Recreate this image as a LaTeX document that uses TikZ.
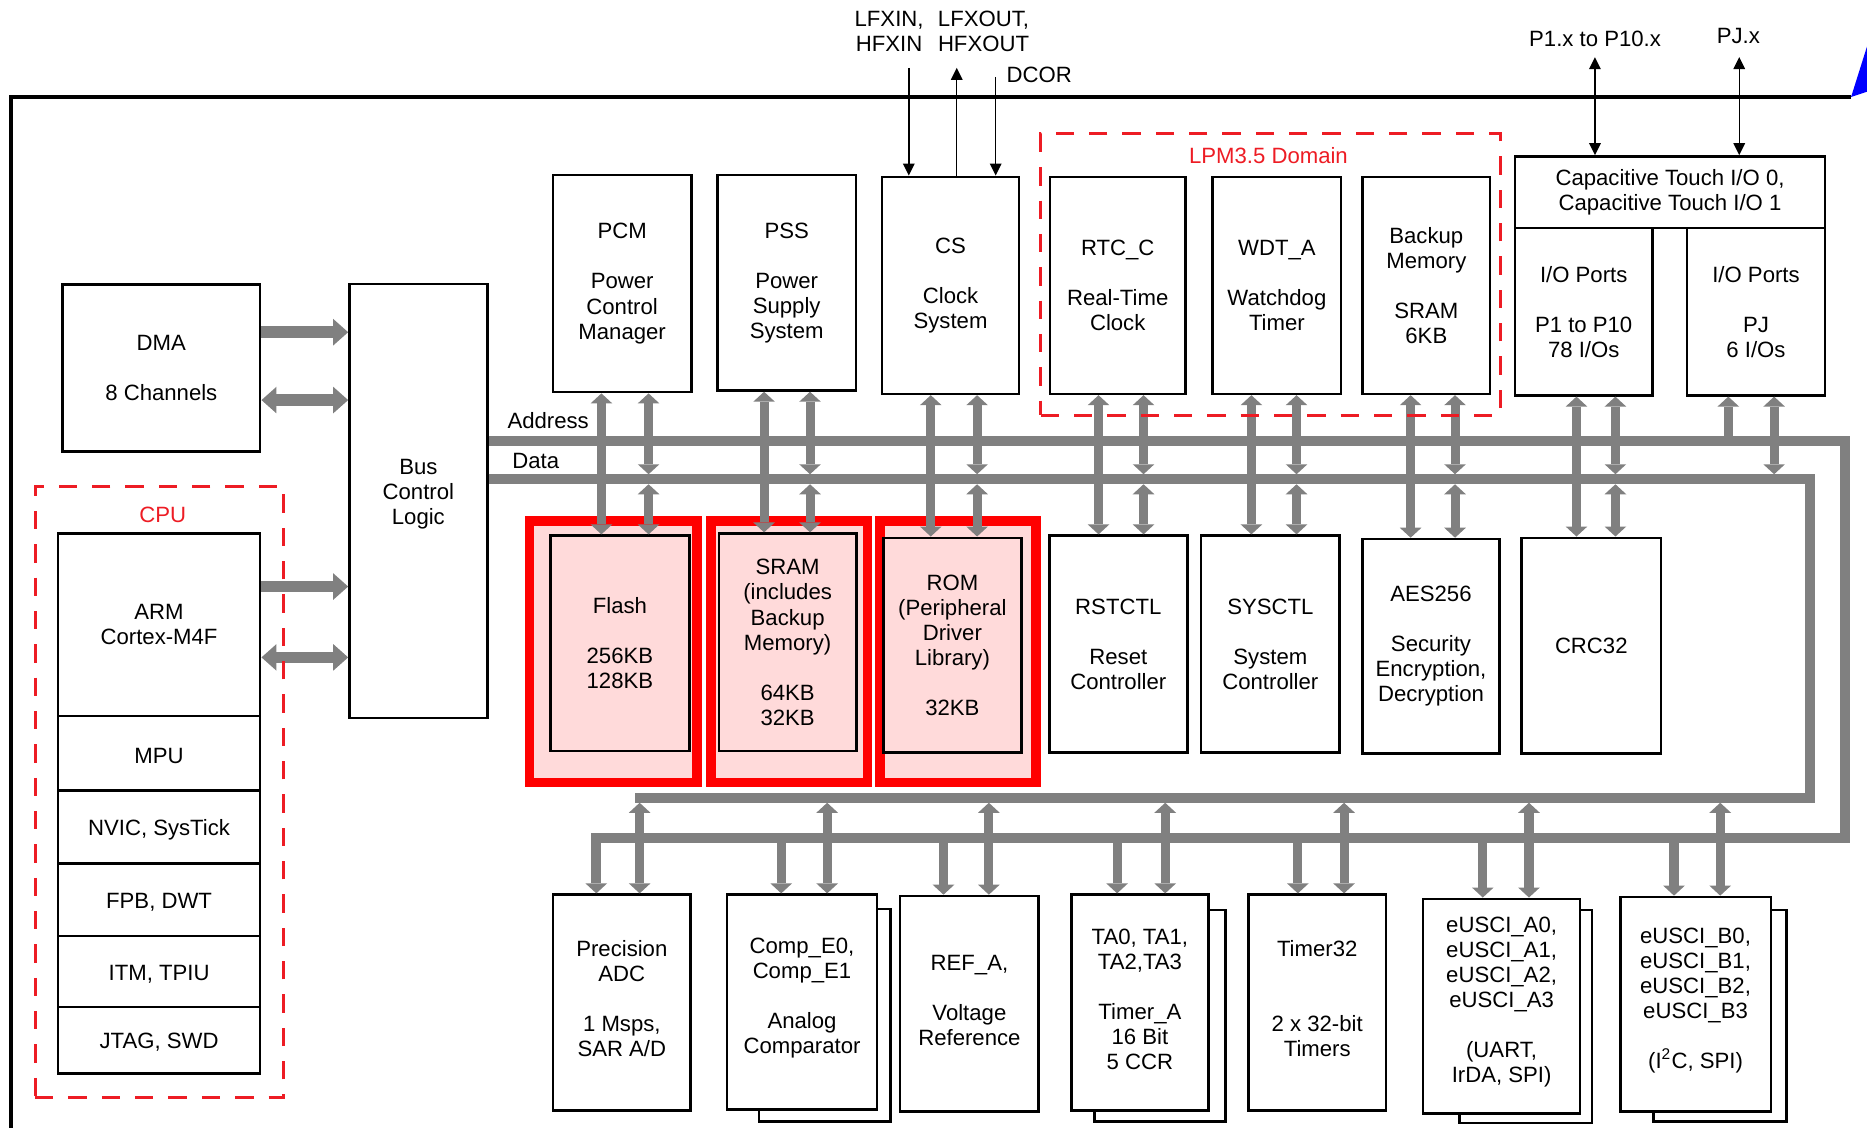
\documentclass[tikz,border=0pt]{standalone}
\usepackage{fontspec}
\setmainfont{Liberation Sans}
\usetikzlibrary{arrows.meta,fit,calc}
\definecolor{busgray}{RGB}{128,128,128}
\definecolor{memred}{RGB}{255,0,0}
\definecolor{mempink}{RGB}{255,218,218}
\definecolor{dashred}{RGB}{237,28,36}
\definecolor{logoblue}{RGB}{0,0,255}
\begin{document}
\begin{tikzpicture}[x=0.5pt,y=-0.5pt,
  every node/.style={font=\fontsize{9.3}{10.5}\selectfont},
  box/.style={draw=black, line width=1.1pt, inner sep=0pt},
  tx/.style={align=center, inner sep=0pt},
  txlow/.style={align=center, inner sep=0pt, yshift=-1pt},
  txhigh/.style={align=center, inner sep=0pt, yshift=1.5pt},
  membox/.style={draw=memred, fill=mempink, line width=4pt, inner sep=0pt},
  dombox/.style={draw=dashred, line width=1.3pt, dash pattern=on 7.7pt off 6.3pt, inner sep=0pt},
  bus/.style={draw=busgray, line width=4.2pt},
  conn/.style={draw=busgray, line width=3.8pt},
  fat/.style={draw=busgray, line width=4.9pt},
  thinarrow/.style={draw=black, line width=0.6pt},
  gtip/.tip={Triangle[width=9.1pt,length=4.2pt,line width=0pt]},
  ftip/.tip={Triangle[width=11.2pt,length=6.3pt,line width=0pt]},
  ttip/.tip={Triangle[width=5pt,length=5pt,line width=0pt]},
  redlabel/.style={text=dashred},
  lbl/.style={align=center},
  shadowline/.style={draw=black, line width=1.1pt}
]
\useasboundingbox (0,0) rectangle (1568,947);
\clip (0,0) rectangle (1568,947);

% outer border and logo corner
\draw[line width=1.4pt] (1554.6,81.5) -- (9.2,81.5) -- (9.2,960);
\fill[logoblue] (1554.6,81.5) -- (1568,39) -- (1568,77) -- cycle;

% left side
\node[box, fit={(52.5,239) (218.5,379.4)}] (dma) {};
\node[tx] (dmat) at (dma) {DMA\\[10.5pt]8 Channels};
\node[box, fit={(293.5,238.5) (409.2,603)}] (busctl) {};
\node[tx, yshift=3pt] (busctlt) at (busctl) {Bus\\Control\\Logic};
\node[box, fit={(48.7,448.2) (218.5,601.3)}] (arm) {};
\node[tx] (armt) at (arm) {ARM\\Cortex-M4F};
\node[box, fit={(48.7,601.3) (218.5,664)}] (mpu) {};
\node[txlow] (mput) at (mpu) {MPU};
\node[box, fit={(48.7,664) (218.5,725.4)}] (nvic) {};
\node[txlow] (nvict) at (nvic) {NVIC, SysTick};
\node[box, fit={(48.7,725.4) (218.5,786)}] (fpb) {};
\node[txlow] (fpbt) at (fpb) {FPB, DWT};
\node[box, fit={(48.7,786) (218.5,845.7)}] (itm) {};
\node[txlow] (itmt) at (itm) {ITM, TPIU};
\node[box, fit={(48.7,845.7) (218.5,901.5)}] (jtag) {};
\node[txlow] (jtagt) at (jtag) {JTAG, SWD};

% top row
\node[box, fit={(464.4,147) (580.6,329.3)}] (pcm) {};
\node[tx] (pcmt) at (pcm) {PCM\\[10.5pt]Power\\Control\\Manager};
\node[box, fit={(602.6,147) (718.8,327.9)}] (pss) {};
\node[tx] (psst) at (pss) {PSS\\[10.5pt]Power\\Supply\\System};
\node[box, fit={(740.8,148.5) (855.8,330.8)}] (cs) {};
\node[tx] (cst) at (cs) {CS\\[10.5pt]Clock\\System};
\node[box, fit={(881.8,148.5) (995.6,330.8)}] (rtc) {};
\node[tx] (rtct) at (rtc) {RTC\_C\\[10.5pt]Real-Time\\Clock};
\node[box, fit={(1018.5,148.5) (1126.3,330.8)}] (wdt) {};
\node[tx] (wdtt) at (wdt) {WDT\_A\\[10.5pt]Watchdog\\Timer};
\node[box, fit={(1144.3,148.5) (1251.5,330.8)}] (bkp) {};
\node[tx] (bkpt) at (bkp) {Backup\\Memory\\[10.5pt]SRAM\\6KB};
\node[box, fit={(1272.3,131.4) (1532.8,191.4)}] (cap) {};
\node[tx] (capt) at (cap) {Capacitive Touch I/O 0,\\Capacitive Touch I/O 1};
\node[box, fit={(1272.3,191.4) (1387.8,332)}] (io1) {};
\node[tx] (io1t) at (io1) {I/O Ports\\[10.5pt]P1 to P10\\78 I/Os};
\node[box, fit={(1416.7,191.4) (1532.8,332)}] (io2) {};
\node[tx] (io2t) at (io2) {I/O Ports\\[10.5pt]PJ\\6 I/Os};

% memories
\node[membox, fit={(444.8,437.6) (585.2,657.3)}] (flashred) {};
\node[membox, fit={(597,437.6) (728.7,657.3)}] (sramred) {};
\node[membox, fit={(738.9,437.6) (870,657.3)}] (romred) {};
\node[box, fit={(462.2,449.9) (579,630.8)}] (flash) {};
\node[tx] (flasht) at (flash) {Flash\\[10.5pt]256KB\\128KB};
\node[box, fit={(603.7,448.2) (719.3,630.8)}] (sram) {};
\node[tx] (sramt) at (sram) {SRAM\\(includes\\Backup\\Memory)\\[10.5pt]64KB\\32KB};
\node[box, fit={(741.8,451.7) (857.9,631.8)}] (rom) {};
\node[tx] (romt) at (rom) {ROM\\(Peripheral\\Driver\\Library)\\[10.5pt]32KB};

% middle row
\node[box, fit={(881.2,449.9) (997.2,631.8)}] (rst) {};
\node[tx] (rstt) at (rst) {RSTCTL\\[10.5pt]Reset\\Controller};
\node[box, fit={(1008.7,449.9) (1125.1,631.8)}] (sys) {};
\node[tx] (syst) at (sys) {SYSCTL\\[10.5pt]System\\Controller};
\node[box, fit={(1144.3,452.7) (1259.3,632.9)}] (aes) {};
\node[tx] (aest) at (aes) {AES256\\[10.5pt]Security\\Encryption,\\Decryption};
\node[box, fit={(1277.9,451.7) (1395,632.9)}] (crc) {};
\node[tx] (crct) at (crc) {CRC32};

% bottom row
\node[box, fit={(464.4,751.4) (580.1,932.6)}] (adc) {};
\node[txhigh] (adct) at (adc) {Precision\\ADC\\[10.5pt]1 Msps,\\SAR A/D};
\node[box, fit={(610.6,751.4) (736.5,931.6)}] (comp) {};
\node[txhigh] (compt) at (comp) {Comp\_E0,\\Comp\_E1\\[10.5pt]Analog\\Comparator};
\node[box, fit={(755.9,752.5) (872.4,933.3)}] (ref) {};
\node[txhigh] (reft) at (ref) {REF\_A,\\[10.5pt]Voltage\\Reference};
\node[box, fit={(899.8,751.4) (1014.9,932.6)}] (ta) {};
\node[txhigh] (tat) at (ta) {TA0, TA1,\\TA2,TA3\\[10.5pt]Timer\_A\\16 Bit\\5 CCR};
\node[box, fit={(1048.5,751.4) (1164,932.6)}] (t32) {};
\node[txhigh] (t32t) at (t32) {Timer32\\[21pt]2 x 32-bit\\Timers};
\node[box, fit={(1195.1,754.9) (1327.1,935)}] (ua) {};
\node[txhigh] (uat) at (ua) {eUSCI\_A0,\\eUSCI\_A1,\\eUSCI\_A2,\\eUSCI\_A3\\[10.5pt](UART,\\IrDA, SPI)};
\node[box, fit={(1360.8,753.3) (1487.2,933.3)}] (ub) {};
\node[txhigh] (ubt) at (ub) {eUSCI\_B0,\\eUSCI\_B1,\\eUSCI\_B2,\\eUSCI\_B3\\[10.5pt](I\textsuperscript{2}C, SPI)};

% stacked shadows
\draw[shadowline] ($(comp.north east)+(0,13)$) -| ($(comp.south east)+(10.5,9.4)$) -| ($(comp.south west)+(28,0)$);
\draw[shadowline] ($(ta.north east)+(0,14)$) -| ($(ta.south east)+(13.4,8.4)$) -| ($(ta.south west)+(20.7,0)$);
\draw[shadowline] ($(ua.north east)+(0,10.4)$) -| ($(ua.south east)+(8.9,7)$) -| ($(ua.south west)+(31.9,0)$);
\draw[shadowline] ($(ub.north east)+(0,12)$) -| ($(ub.south east)+(11.9,7.7)$) -| ($(ub.south west)+(29.2,0)$);

% bus reference coordinates
\coordinate (aY) at (0,370.3);
\coordinate (dY) at (0,402.5);
\coordinate (dTop) at (0,398.3);
\coordinate (dBot) at (0,406.7);
\coordinate (aR) at (1549.5,0);
\coordinate (dR) at (1520,0);
\coordinate (laY) at (0,703.6);
\coordinate (ldY) at (0,670);
\coordinate (ldBot) at (0,674.2);
\coordinate (adcA) at (500.8,0);
\coordinate (adcD) at (537.2,0);

% buses
\draw[bus, -gtip] (busctl.east |- aY) -- (aR |- aY) -- (aR |- laY) -- (adcA |- laY) -- (adc.north -| adcA);
\draw[bus] (busctl.east |- dY) -- (dR |- dY) -- (dR |- ldY) -- ([xshift=-1.9pt]adcD |- ldY);
\draw[conn, gtip-gtip] (adcD |- ldBot) -- (adc.north -| adcD);

% top connectors
\foreach \t/\b/\xa/\xd in {pcm/flash/505.1/544.7, pss/sram/641.7/680.3, cs/rom/781.7/820.6, rtc/rst/922.6/960.4, wdt/sys/1051/1088.9, bkp/aes/1184.7/1222, io1/crc/1324/1356.7}{
  \coordinate (xa) at (\xa,0);
  \coordinate (xd) at (\xd,0);
  \draw[conn, gtip-gtip] (\t.south -| xa) -- (\b.north -| xa);
  \draw[conn, gtip-gtip] (\t.south -| xd) -- (xd |- dTop);
  \draw[conn, gtip-gtip] (xd |- dBot) -- (\b.north -| xd);
}
\coordinate (pjA) at (1451.5,0);
\coordinate (pjD) at (1490,0);
\draw[conn, -gtip] (pjA |- aY) -- (io2.south -| pjA);
\draw[conn, gtip-gtip] (io2.south -| pjD) -- (pjD |- dTop);

% bottom connectors
\foreach \b/\xa/\xd in {comp/656.1/694.7, ref/792.4/830.5, ta/938.2/978.6, t32/1090/1128.8, ua/1245.3/1284.1, ub/1405.9/1444.7}{
  \coordinate (xa) at (\xa,0);
  \coordinate (xd) at (\xd,0);
  \draw[conn, -gtip] (xa |- laY) -- (\b.north -| xa);
  \draw[conn, gtip-gtip] (xd |- ldBot) -- (\b.north -| xd);
}

% DMA / CPU to bus control
\coordinate (dmaY1) at (0,279);
\coordinate (dmaY2) at (0,336);
\coordinate (cpuY1) at (0,492.6);
\coordinate (cpuY2) at (0,552.1);
\draw[fat, -ftip] (dma.east |- dmaY1) -- (busctl.west |- dmaY1);
\draw[fat, ftip-ftip] (dma.east |- dmaY2) -- (busctl.west |- dmaY2);
\draw[fat, -ftip] (arm.east |- cpuY1) -- (busctl.west |- cpuY1);
\draw[fat, ftip-ftip] (arm.east |- cpuY2) -- (busctl.west |- cpuY2);

% domains
\node[dombox, fit={(29.5,408.3) (238.4,921.6)}] (cpu) {};
\node[redlabel] (cpulbl) at (136.6,432.5) {CPU};
\node[dombox, fit={(874,112.5) (1259.8,348.9)}] (lpm) {};
\node[redlabel] (lpmlbl) at (1065.3,131) {LPM3.5 Domain};

% external signals
\coordinate (lfxin) at (763.3,57);
\coordinate (lfxout) at (803.5,57);
\coordinate (dcor) at (836.2,64.5);
\coordinate (p1x) at (1339.5,48);
\coordinate (pjx) at (1460.7,48);
\draw[thinarrow, -ttip] (lfxin) -- (cs.north -| lfxin);
\draw[thinarrow, ttip-] (lfxout) -- (cs.north -| lfxout);
\draw[thinarrow, -ttip] (dcor) -- (cs.north -| dcor);
\draw[thinarrow, ttip-ttip] (p1x) -- (cap.north -| p1x);
\draw[thinarrow, ttip-ttip] (pjx) -- (cap.north -| pjx);

\node[lbl] (lfxinlbl) at (746.7,26) {LFXIN,\\HFXIN};
\node[lbl] (lfxoutlbl) at (826,26) {LFXOUT,\\HFXOUT};
\node[anchor=west, inner sep=0pt] (dcorlbl) at (845,63) {DCOR};
\node (p1lbl) at (1339.6,32.4) {P1.x to P10.x};
\node (pjlbl) at (1460,30) {PJ.x};
\node (addrlbl) at (460.4,353.3) {Address};
\node (datalbl) at (449.9,387.5) {Data};
\end{tikzpicture}
\end{document}
